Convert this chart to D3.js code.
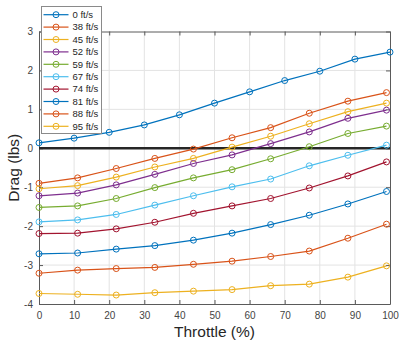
<!DOCTYPE html>
<html>
<head>
<meta charset="utf-8">
<script src="https://cdn.jsdelivr.net/npm/d3@7"></script>
<style>
  body { margin: 0; background: #fff; }
  svg { font-family: "Liberation Sans", Arial, sans-serif; }
</style>
</head>
<body>
<svg id="chart"></svg>
<script>
var width = 399;
var height = 345;
var margin = {top: 31.5, right: 9, bottom: 41, left: 39};
var plotWidth = width - margin.left - margin.right;
var plotHeight = height - margin.top - margin.bottom;

// data
var speeds = ['0 ft/s', '38 ft/s', '45 ft/s', '52 ft/s', '59 ft/s', '67 ft/s', '74 ft/s', '81 ft/s', '88 ft/s', '95 ft/s'];
var throttleStill = [0, 10, 20, 30, 40, 50, 60, 70, 80, 90, 100];
var throttleMoving = [0, 11, 22, 33, 44, 55, 66, 77, 88, 99];
var drag0 = [0.14, 0.26, 0.41, 0.60, 0.86, 1.16, 1.45, 1.74, 1.98, 2.29, 2.47];
var drag38 = [-0.90, -0.76, -0.52, -0.26, -0.02, 0.27, 0.53, 0.90, 1.21, 1.43];
var drag45 = [-1.04, -0.96, -0.74, -0.48, -0.26, 0.03, 0.31, 0.63, 0.94, 1.16];
var drag52 = [-1.22, -1.15, -0.94, -0.67, -0.39, -0.17, 0.12, 0.42, 0.77, 0.98];
var drag59 = [-1.52, -1.48, -1.29, -1.01, -0.76, -0.55, -0.27, 0.04, 0.38, 0.57];
var drag67 = [-1.89, -1.84, -1.70, -1.46, -1.22, -0.99, -0.79, -0.45, -0.18, 0.08];
var drag74 = [-2.19, -2.18, -2.07, -1.90, -1.67, -1.48, -1.29, -1.02, -0.71, -0.35];
var drag81 = [-2.71, -2.69, -2.59, -2.50, -2.36, -2.18, -1.96, -1.72, -1.43, -1.11];
var drag88 = [-3.21, -3.13, -3.09, -3.06, -2.98, -2.90, -2.78, -2.64, -2.31, -1.95];
var drag95 = [-3.73, -3.75, -3.77, -3.71, -3.67, -3.63, -3.53, -3.49, -3.31, -3.02];
var xTicks = [0, 10, 20, 30, 40, 50, 60, 70, 80, 90, 100];
var yTicks = [-4, -3, -2, -1, 0, 1, 2, 3];

var colors = ['#0072BD', '#D95319', '#EDB120', '#7E2F8E', '#77AC30', '#4DBEEE', '#A2142F', '#0072BD', '#D95319', '#EDB120'];

var allDrag = [drag0, drag38, drag45, drag52, drag59, drag67, drag74, drag81, drag88, drag95];
var series = speeds.map(function(name, i) {
  var xs = i == 0 ? throttleStill : throttleMoving;
  return {
    name: name,
    color: colors[i],
    points: allDrag[i].map(function(v, j) { return {x: xs[j], y: v}; })
  };
});

var svg = d3.select('#chart')
  .attr('width', width)
  .attr('height', height);

var x = d3.scaleLinear().domain([0, 100]).range([0, plotWidth]);
var y = d3.scaleLinear().domain([-4, 3]).range([plotHeight, 0]);

var g = svg.append('g')
  .attr('transform', 'translate(' + margin.left + ',' + margin.top + ')');

// grid
g.append('g').selectAll('line')
  .data(xTicks.slice(1, -1))
  .enter().append('line')
    .attr('x1', function(d) { return x(d); })
    .attr('x2', function(d) { return x(d); })
    .attr('y1', 0)
    .attr('y2', plotHeight)
    .attr('stroke', '#e3e3e3')
    .attr('stroke-width', 1);

g.append('g').selectAll('line')
  .data(yTicks.slice(1, -1))
  .enter().append('line')
    .attr('x1', 0)
    .attr('x2', plotWidth)
    .attr('y1', function(d) { return y(d); })
    .attr('y2', function(d) { return y(d); })
    .attr('stroke', '#e3e3e3')
    .attr('stroke-width', 1);

// axes (ticks inward, MATLAB style)
var axisColor = '#5a5a5a';
var xAxis = g.append('g')
  .attr('transform', 'translate(0,' + plotHeight + ')')
  .call(d3.axisBottom(x).tickValues(xTicks).tickSizeInner(-4).tickSizeOuter(0).tickPadding(8));
var xAxisTop = g.append('g')
  .call(d3.axisTop(x).tickValues(xTicks).tickSizeInner(-4).tickSizeOuter(0).tickFormat(''));
var yAxis = g.append('g')
  .call(d3.axisLeft(y).tickValues(yTicks).tickSizeInner(-4).tickSizeOuter(0).tickPadding(6)
    .tickFormat(function(d) { return String(d); }));
var yAxisRight = g.append('g')
  .attr('transform', 'translate(' + plotWidth + ',0)')
  .call(d3.axisRight(y).tickValues(yTicks).tickSizeInner(-4).tickSizeOuter(0).tickFormat(''));

[xAxis, xAxisTop, yAxis, yAxisRight].forEach(function(a) {
  a.select('.domain').attr('stroke', axisColor).attr('stroke-width', 1);
  a.selectAll('.tick line').attr('stroke', axisColor);
  a.selectAll('.tick text')
    .attr('fill', '#444')
    .attr('font-size', '10px')
    .attr('font-family', '"Liberation Sans", Arial, sans-serif');
});

// zero line
g.append('line')
  .attr('x1', 0)
  .attr('x2', plotWidth)
  .attr('y1', y(0))
  .attr('y2', y(0))
  .attr('stroke', '#262626')
  .attr('stroke-width', 2.5);

// series
var line = d3.line()
  .x(function(d) { return x(d.x); })
  .y(function(d) { return y(d.y); });

var seriesG = g.append('g').selectAll('g')
  .data(series)
  .enter().append('g');

seriesG.append('path')
  .attr('d', function(d) { return line(d.points); })
  .attr('fill', 'none')
  .attr('stroke', function(d) { return d.color; })
  .attr('stroke-width', 1.2);

seriesG.selectAll('circle')
  .data(function(d) { return d.points.map(function(p) { return {x: p.x, y: p.y, color: d.color}; }); })
  .enter().append('circle')
    .attr('cx', function(d) { return x(d.x); })
    .attr('cy', function(d) { return y(d.y); })
    .attr('r', 3)
    .attr('fill', 'none')
    .attr('stroke', function(d) { return d.color; })
    .attr('stroke-width', 1);

// axis labels
svg.append('text')
  .attr('x', margin.left + plotWidth / 2)
  .attr('y', 337)
  .attr('text-anchor', 'middle')
  .attr('font-size', '15.5px')
  .attr('fill', '#262626')
  .text('Throttle (%)');

svg.append('text')
  .attr('transform', 'translate(19,' + (margin.top + plotHeight / 2) + ') rotate(-90)')
  .attr('text-anchor', 'middle')
  .attr('font-size', '15.5px')
  .attr('fill', '#262626')
  .text('Drag (lbs)');

// legend
var legendX = 41;
var legendY = 6;
var rowH = 12.4;
var legend = svg.append('g')
  .attr('transform', 'translate(' + legendX + ',' + legendY + ')');

legend.append('rect')
  .attr('x', 0.5)
  .attr('y', 0.5)
  .attr('width', 60)
  .attr('height', 127)
  .attr('fill', '#fff')
  .attr('stroke', '#8a8a8a')
  .attr('stroke-width', 1);

var items = legend.selectAll('.item')
  .data(series)
  .enter().append('g')
    .attr('transform', function(d, i) { return 'translate(0,' + (8.7 + i * rowH) + ')'; });

items.append('line')
  .attr('x1', 2.5)
  .attr('x2', 27.5)
  .attr('stroke', function(d) { return d.color; })
  .attr('stroke-width', 1.2);

items.append('circle')
  .attr('cx', 15)
  .attr('r', 3)
  .attr('fill', 'none')
  .attr('stroke', function(d) { return d.color; })
  .attr('stroke-width', 1);

items.append('text')
  .attr('x', 31.5)
  .attr('dy', '0.35em')
  .attr('font-size', '9.5px')
  .attr('fill', '#262626')
  .text(function(d) { return d.name; });
</script>
</body>
</html>
